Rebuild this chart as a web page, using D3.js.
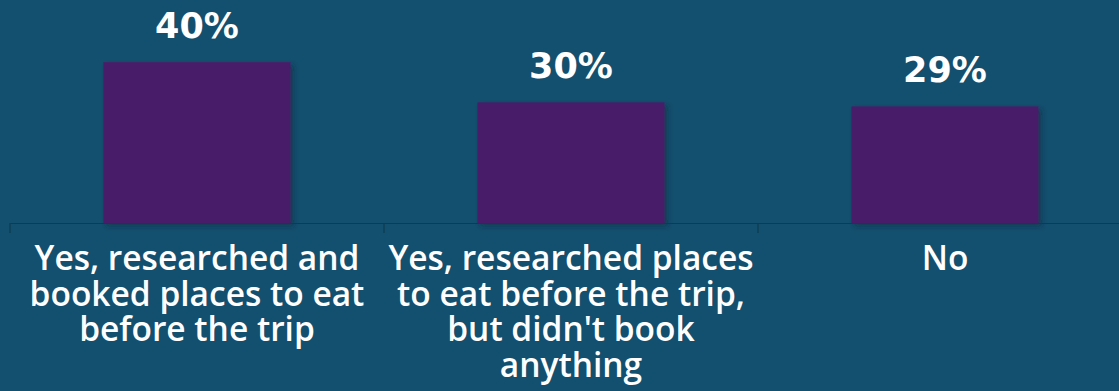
<!DOCTYPE html>
<html>
<head>
<meta charset="utf-8">
<script src="https://cdn.jsdelivr.net/npm/d3@7"></script>
<style>
  html, body { margin: 0; padding: 0; background: #134f6e; }
  svg { display: block; }
</style>
</head>
<body>
<svg id="chart" width="1119" height="391"></svg>
<script>
// Survey answers (line breaks as shown under each bar)
const categories = [
  "Yes, researched and\nbooked places to eat\nbefore the trip",
  "Yes, researched places\nto eat before the trip,\nbut didn't book\nanything",
  "No"
];
const values = [0.40, 0.30, 0.29];
const valueLabels = ["40%", "30%", "29%"];

const W = 1119, H = 391;
const svg = d3.select("#chart");

svg.append("rect").attr("width", W).attr("height", H).attr("fill", "#134f6e");

const defs = svg.append("defs");
const f = defs.append("filter").attr("id", "shadow")
  .attr("x", "-10%").attr("y", "-10%").attr("width", "130%").attr("height", "130%");
f.append("feDropShadow").attr("dx", 3).attr("dy", 3).attr("stdDeviation", 2.5)
  .attr("flood-color", "#0a2a3a").attr("flood-opacity", 0.55);

const x = d3.scaleBand().domain(categories).range([10, 1132])
  .paddingInner(0.5).paddingOuter(0.25);
const y = d3.scaleLinear().domain([0, 0.45]).range([223, 42]);

// bars
svg.append("g").selectAll("rect").data(categories).join("rect")
  .attr("x", d => x(d))
  .attr("y", (d, i) => y(values[i]))
  .attr("width", x.bandwidth())
  .attr("height", (d, i) => y(0) - y(values[i]))
  .attr("fill", "#4a1d6b")
  .attr("filter", "url(#shadow)");

// baseline axis
const axis = svg.append("g").attr("transform", `translate(0,${y(0)})`)
  .call(d3.axisBottom(x).tickSize(0).tickFormat(""));
axis.select(".domain").attr("stroke", "#0e3b50").attr("stroke-width", 1.2);
const step = x.step();
const bounds = categories.map(c => x(c) - step * 0.25).concat([x(categories[2]) + x.bandwidth() + step * 0.25]);
axis.selectAll(".bound").data(bounds).join("line").attr("class", "bound")
  .attr("x1", d => d).attr("x2", d => d).attr("y1", 0).attr("y2", 10)
  .attr("stroke", "#0e3b50").attr("stroke-width", 1.2);

// value labels
svg.append("g").selectAll("text").data(categories).join("text")
  .attr("x", d => x(d) + x.bandwidth() / 2)
  .attr("y", (d, i) => y(values[i]) - 24)
  .attr("text-anchor", "middle")
  .attr("fill", "#ffffff")
  .attr("font-family", "DejaVu Sans")
  .attr("font-weight", "bold")
  .attr("font-size", 35)
  .text((d, i) => valueLabels[i]);

// category labels, one text element per line
const lineGap = 35.5;
const rows = categories.flatMap(c => c.split("\n").map((t, k) => ({ c, t, k })));
svg.append("g").selectAll("text").data(rows).join("text")
  .attr("x", d => x(d.c) + x.bandwidth() / 2)
  .attr("y", d => 270 + d.k * lineGap)
  .attr("text-anchor", "middle")
  .attr("fill", "#ffffff")
  .attr("font-family", "Open Sans")
  .attr("font-weight", 600)
  .attr("font-size", 33.5)
  .text(d => d.t);
</script>
</body>
</html>
